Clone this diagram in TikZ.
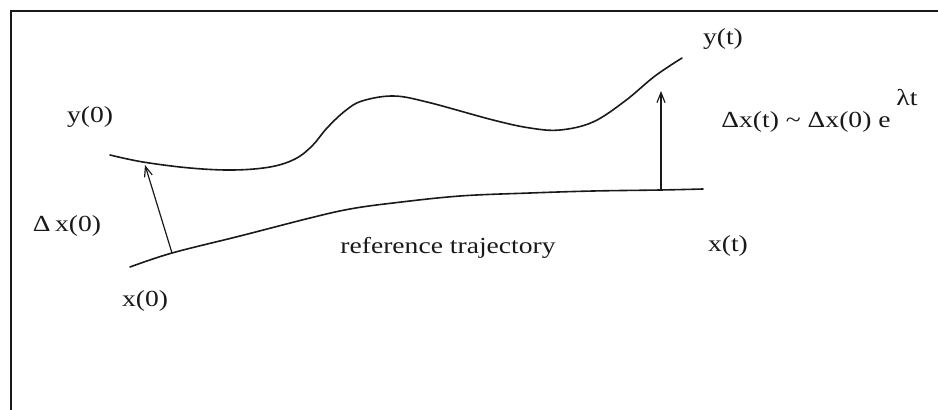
\documentclass[tikz,border=0pt]{standalone}
\usepackage{fontspec}
\setmainfont{Liberation Serif}
\usepackage{tikz}
\usetikzlibrary{arrows.meta}
\definecolor{InkGray}{RGB}{25,25,25}
\tikzset{
  lbl/.style={font=\fontsize{23}{27}\selectfont, text=InkGray, inner sep=0pt, xscale=1.2},
  traj/.style={draw=InkGray, line width=1.6pt, line cap=round},
  devarrow/.style={-{Straight Barb[length=10pt,width=8pt]}, draw=InkGray, line width=1.2pt},
  frame/.style={draw=InkGray, line width=2pt},
}

\begin{document}
\begin{tikzpicture}[x=1pt, y=-1pt]
  \useasboundingbox (0,0) rectangle (938,410);
  % frame
  \draw[frame] (11,410) -- (11,11) -- (938,11);
  % perturbed trajectory
  \draw[traj] plot[smooth, tension=0.6] coordinates {(110,155) (143,162) (190,168) (233,170)
    (270,167) (295,159) (312,146) (327,128) (345,111) (362,101) (393,96) (427,102)
    (493,120) (530,128) (560,130) (593,122) (625,101) (655,76) (682,58)};
  % reference trajectory
  \draw[traj] plot[smooth, tension=0.6] coordinates {(130,267) (172,253) (240,236) (310,218)
    (350,209) (393,203) (460,196) (530,193) (593,191) (660,190) (703,189)};
  \coordinate (dx0base) at (172,253);
  \coordinate (dx0tip) at (145,165);
  \coordinate (dxtbase) at (661,190);
  \coordinate (dxttip) at (661,91);
  \draw[devarrow] (dx0base) -- (dx0tip);
  \draw[devarrow] (dxtbase) -- (dxttip);
  % labels
  \node[lbl] (y0) at (90,117) {y(0)};
  \node[lbl] (yt) at (723,39) {y(t)};
  \node[lbl] (dx0) at (67,226) {Δ\,x(0)};
  \node[lbl] (reftraj) at (448,248) {reference trajectory};
  \node[lbl] (xt) at (728,246) {x(t)};
  \node[lbl] (x0) at (145,301) {x(0)};
  \node[lbl] (growth) at (806,122) {Δx(t) \textasciitilde{} Δx(0) e};
  \node[lbl] (rate) at (907,98) {λt};
\end{tikzpicture}
\end{document}
